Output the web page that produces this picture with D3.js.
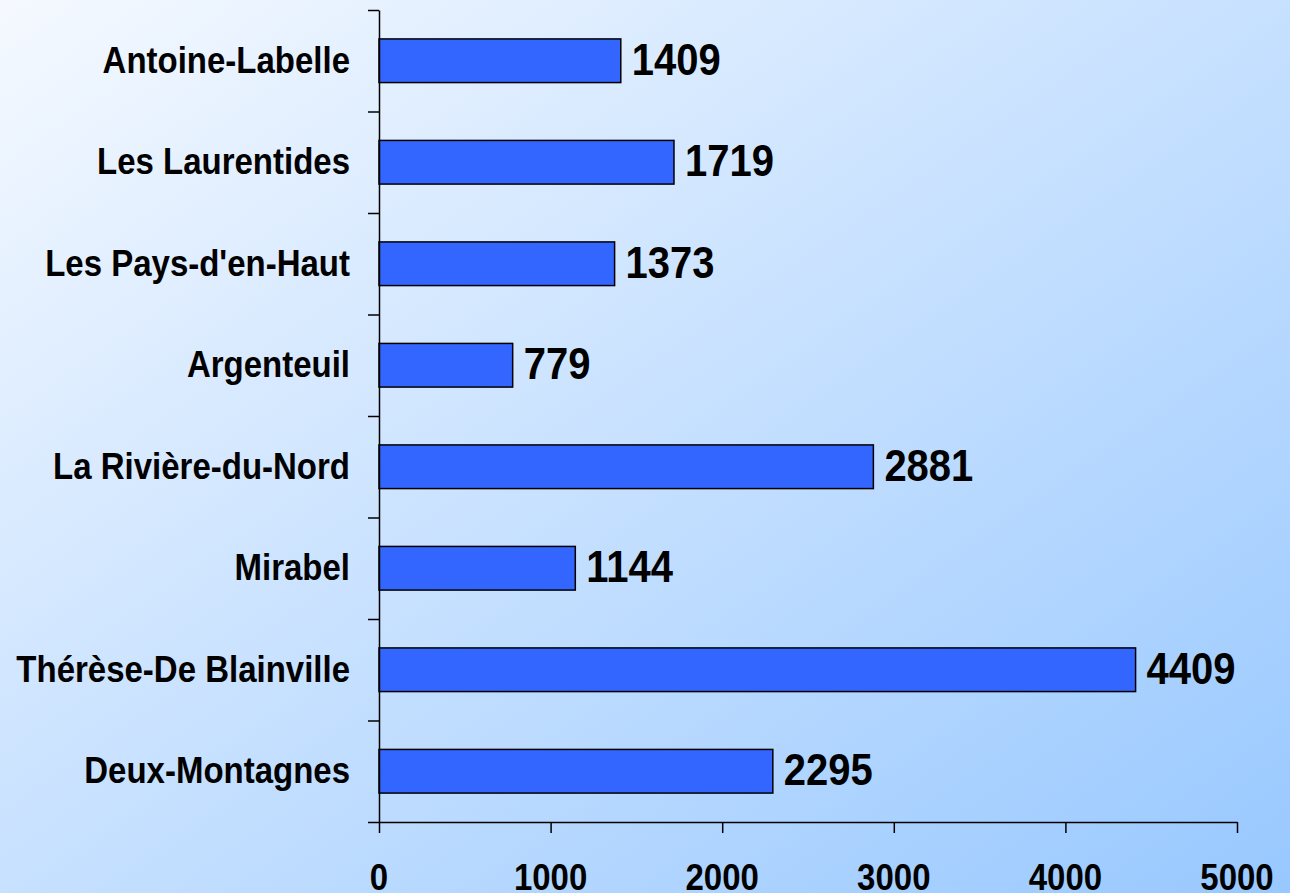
<!DOCTYPE html>
<html>
<head>
<meta charset="utf-8">
<script src="https://cdn.jsdelivr.net/npm/d3@7"></script>
<style>
  html, body { margin: 0; padding: 0; }
  svg text { font-family: 'Liberation Sans', Arial, sans-serif; font-weight: bold; fill: #000; }
</style>
</head>
<body>
<div id="vis"></div>
<script>
'use strict';

//data
var regions = ['Antoine-Labelle', 'Les Laurentides', "Les Pays-d'en-Haut", 'Argenteuil',
    'La Rivière-du-Nord', 'Mirabel', 'Thérèse-De Blainville', 'Deux-Montagnes'];
var counts = [1409, 1719, 1373, 779, 2881, 1144, 4409, 2295];
var xTicks = [0, 1000, 2000, 3000, 4000, 5000];

//layout
var W = 1290, H = 893;
var plot = { left: 379, right: 1237, top: 10, bottom: 822 };
var stretch = 1.1; // text in the picture is a bit taller than wide

var svg = d3.select('#vis')
    .append('svg')
    .attr('width', W)
    .attr('height', H);

//background gradient
var grad = svg.append('defs')
    .append('linearGradient')
    .attr('id', 'bg')
    .attr('x1', 0).attr('y1', 0)
    .attr('x2', 1).attr('y2', 1);
grad.append('stop').attr('offset', '0%').attr('stop-color', '#f5f9ff');
grad.append('stop').attr('offset', '100%').attr('stop-color', '#98c8ff');
svg.append('rect')
    .attr('width', W)
    .attr('height', H)
    .attr('fill', 'url(#bg)');

//scales
var x = d3.scaleLinear().domain([0, 5000]).range([plot.left, plot.right]);
var y = d3.scaleBand().domain(regions).range([plot.top, plot.bottom]).padding(0);
var yIdx = d3.scaleLinear().domain([0, regions.length]).range([plot.top, plot.bottom]);
var barH = y.bandwidth() * 0.43;

function stretchedText(g, px, py, str, size, anchor) {
    g.append('g')
        .attr('transform', 'translate(' + px + ',' + py + ') scale(1,' + stretch + ')')
        .append('text')
        .attr('text-anchor', anchor)
        .style('font-size', size + 'px')
        .text(str);
}

//bars
svg.selectAll('.bar')
    .data(regions)
    .enter()
    .append('rect')
    .attr('class', 'bar')
    .attr('x', x(0))
    .attr('y', function (d) { return y(d) + (y.bandwidth() - barH) / 2; })
    .attr('width', function (d, i) { return x(counts[i]) - x(0); })
    .attr('height', barH)
    .attr('fill', '#3366ff')
    .attr('stroke', '#000')
    .attr('stroke-width', 1.5);

//value labels
var labels = svg.append('g');
regions.forEach(function (d, i) {
    stretchedText(labels, x(counts[i]) + 11, y(d) + y.bandwidth() / 2 + 14, counts[i], 40, 'start');
});

//y axis, ticks between categories
var yAxis = svg.append('g')
    .attr('transform', 'translate(' + plot.left + ',0)')
    .call(d3.axisLeft(yIdx)
        .tickValues(d3.range(regions.length + 1))
        .tickFormat('')
        .tickSize(11)
        .tickSizeOuter(0));
yAxis.selectAll('path, line').attr('stroke', '#000').attr('stroke-width', 1.5);

//category names
var names = svg.append('g');
regions.forEach(function (d) {
    stretchedText(names, plot.left - 29, y(d) + y.bandwidth() / 2 + 12, d, 33, 'end');
});

//x axis
var xAxis = svg.append('g')
    .attr('transform', 'translate(0,' + plot.bottom + ')')
    .call(d3.axisBottom(x)
        .tickValues(xTicks)
        .tickFormat('')
        .tickSize(11)
        .tickSizeOuter(0));
xAxis.selectAll('path, line').attr('stroke', '#000').attr('stroke-width', 1.5);

var tickText = svg.append('g');
xTicks.forEach(function (t) {
    stretchedText(tickText, x(t), 890, t, 33, 'middle');
});
</script>
</body>
</html>
